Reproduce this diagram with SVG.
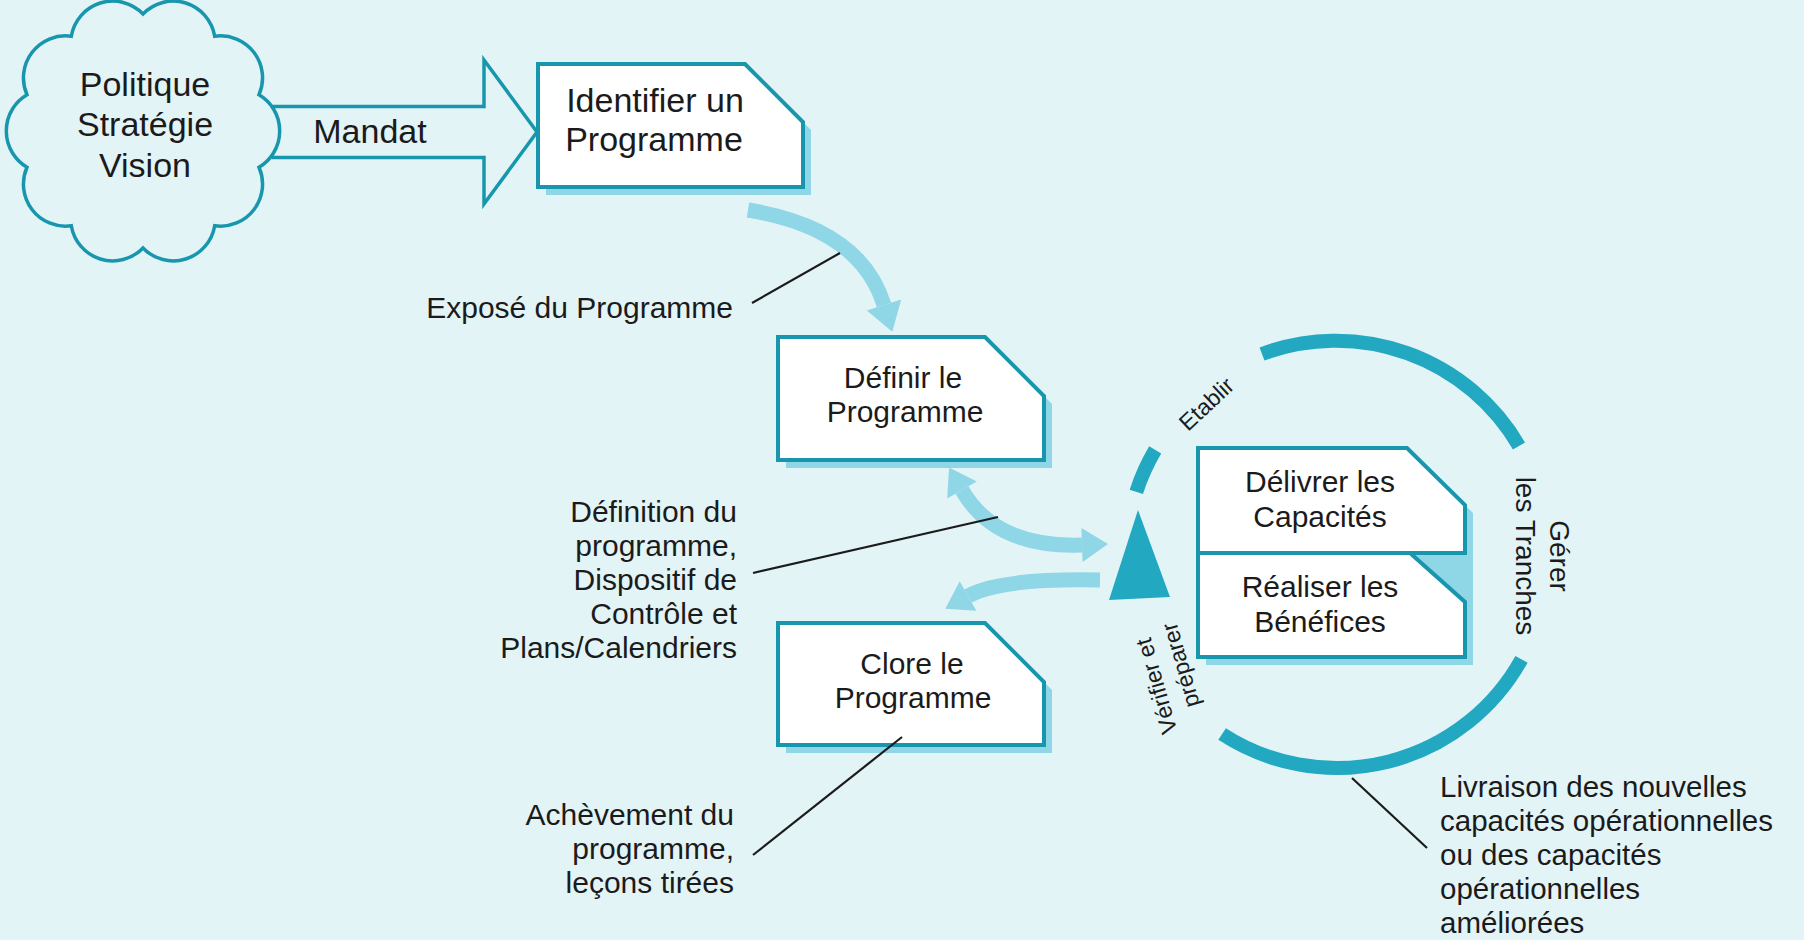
<svg xmlns="http://www.w3.org/2000/svg" width="1804" height="940" viewBox="0 0 1804 940">
<style>
  text { font-family: "Liberation Sans", Arial, sans-serif; fill: #1b1b1b; }
  .t34 { font-size: 34px; }
  .t30 { font-size: 30px; }
  .t295 { font-size: 29.5px; }
  .t28 { font-size: 28px; }
  .t23 { font-size: 23px; }
  .mid { text-anchor: middle; }
  .end { text-anchor: end; }
  .box { fill: #ffffff; stroke: #1796ae; stroke-width: 4; stroke-linejoin: miter; }
  .shadow { fill: #8fd6e6; }
  .outline { fill: none; stroke: #1796ae; stroke-width: 3.5; stroke-linejoin: miter; }
  .light { fill: none; stroke: #8fd6e6; stroke-width: 15; }
  .lighthead { fill: #8fd6e6; }
  .ring { fill: none; stroke: #22a8c1; stroke-width: 14; }
  .leader { fill: none; stroke: #1b1b1b; stroke-width: 2.2; }
</style>
<rect x="0" y="0" width="1804" height="940" fill="#e3f4f7"/>

<g id="cloud-politique">
  <path class="outline" d="M259,94.8 A42,42 0 0 1 259,167.2 A42,42 0 0 1 214.7,225.7 A42,42 0 0 1 143,248 A42,42 0 0 1 71.3,225.7 A42,42 0 0 1 27,167.2 A42,42 0 0 1 27,94.8 A42,42 0 0 1 71.3,36.3 A42,42 0 0 1 143,14 A42,42 0 0 1 214.7,36.3 A42,42 0 0 1 259,94.8 Z"/>
  <text class="t34 mid" x="145" y="96">Politique</text>
  <text class="t34 mid" x="145" y="136">Stratégie</text>
  <text class="t34 mid" x="145" y="177">Vision</text>
</g>

<g id="mandat-arrow">
  <path class="outline" d="M271.8,106.5 L484,106.5 L484,60 L537,132 L484,204 L484,157.5 L271.8,157.5"/>
  <text class="t34 mid" x="370" y="143">Mandat</text>
</g>

<g id="node-identifier">
  <path class="shadow" d="M546,72 L753,72 L811,130 L811,195 L546,195 Z"/>
  <path class="box" d="M538,64 L745,64 L803,122 L803,187 L538,187 Z"/>
  <text class="t34 mid" x="655" y="112">Identifier un</text>
  <text class="t34 mid" x="654" y="151">Programme</text>
</g>

<g id="node-definir">
  <path class="shadow" d="M786,345 L993,345 L1052,404 L1052,468 L786,468 Z"/>
  <path class="box" d="M778,337 L985,337 L1044,396 L1044,460 L778,460 Z"/>
  <text class="t30 mid" x="903" y="388">Définir le</text>
  <text class="t30 mid" x="905" y="422">Programme</text>
</g>

<g id="node-clore">
  <path class="shadow" d="M786,631 L993,631 L1052,690 L1052,753 L786,753 Z"/>
  <path class="box" d="M778,623 L985,623 L1044,682 L1044,745 L778,745 Z"/>
  <text class="t30 mid" x="912" y="674">Clore le</text>
  <text class="t30 mid" x="913" y="708">Programme</text>
</g>

<g id="node-delivrer-realiser">
  <path class="shadow" d="M1206,456 L1415,456 L1473,513 L1473,665 L1206,665 Z"/>
  <path class="box" d="M1198,448 L1407,448 L1465,505 L1465,553 L1198,553 Z"/>
  <path class="box" d="M1198,553 L1410,553 L1465,602 L1465,657 L1198,657 Z"/>
  <text class="t30 mid" x="1320" y="492">Délivrer les</text>
  <text class="t30 mid" x="1320" y="527">Capacités</text>
  <text class="t30 mid" x="1320" y="597">Réaliser les</text>
  <text class="t30 mid" x="1320" y="632">Bénéfices</text>
</g>

<g id="cycle-tranches">
  <path class="ring" d="M1262,354 A212,212 0 0 1 1519,446"/>
  <path class="ring" d="M1521.5,659.3 A211,211 0 0 1 1222.1,734"/>
  <path class="ring" d="M1136.3,491.8 A211,211 0 0 1 1155.2,449.9"/>
  <polygon fill="#22a8c1" points="1138,510 1109,600 1170,597"/>
  <text class="t23" transform="translate(1188,432) rotate(-43)">Etablir</text>
  <text class="t23 mid" transform="translate(1164,684) rotate(-106)">Vérifier et</text>
  <text class="t23 mid" transform="translate(1188,663) rotate(-106)">préparer</text>
  <text class="t28 mid" transform="translate(1550,556) rotate(90)"><tspan x="0" y="0">Gérer</tspan><tspan x="0" y="34">les Tranches</tspan></text>
</g>

<g id="connectors">
  <path class="light" d="M748,210 Q860,228 884,305"/>
  <polygon class="lighthead" points="892.3,331.7 901.2,299.6 866.8,310.4"/>
  <path class="light" d="M962,490 Q995,548 1082,545"/>
  <polygon class="lighthead" points="949.1,467.4 976.8,481.6 947.2,498.4"/>
  <polygon class="lighthead" points="1108,544.1 1082.6,562 1081.4,528"/>
  <path class="light" d="M1100,580 Q1000,578 968,596"/>
  <polygon class="lighthead" points="945.3,608.7 976.3,610.8 959.7,581.2"/>
  <line class="leader" x1="752" y1="303" x2="840" y2="253"/>
  <line class="leader" x1="753" y1="573" x2="998" y2="517"/>
  <line class="leader" x1="753" y1="855" x2="902" y2="737"/>
  <line class="leader" x1="1352" y1="778" x2="1427" y2="848"/>
</g>

<g id="labels">
  <text class="t30 end" x="733" y="318">Exposé du Programme</text>
  <text class="t30 end" x="737" y="522">Définition du</text>
  <text class="t30 end" x="737" y="556">programme,</text>
  <text class="t30 end" x="737" y="590">Dispositif de</text>
  <text class="t30 end" x="737" y="624">Contrôle et</text>
  <text class="t30 end" x="737" y="658">Plans/Calendriers</text>
  <text class="t30 end" x="734" y="825">Achèvement du</text>
  <text class="t30 end" x="734" y="859">programme,</text>
  <text class="t30 end" x="734" y="893">leçons tirées</text>
  <text class="t295" x="1440" y="797">Livraison des nouvelles</text>
  <text class="t295" x="1440" y="831">capacités opérationnelles</text>
  <text class="t295" x="1440" y="865">ou des capacités</text>
  <text class="t295" x="1440" y="899">opérationnelles</text>
  <text class="t295" x="1440" y="933">améliorées</text>
</g>
</svg>
